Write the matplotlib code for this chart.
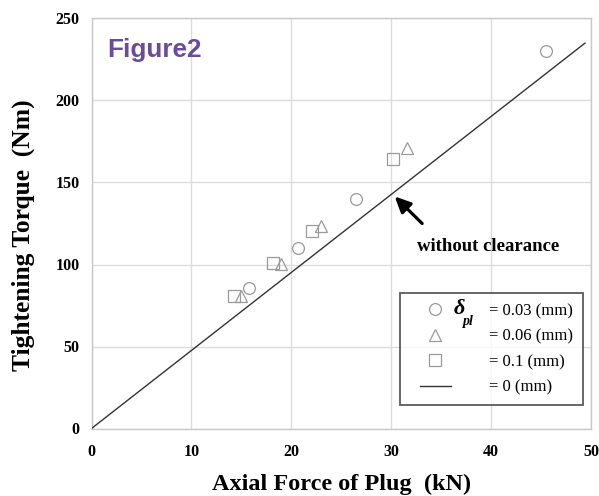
import matplotlib
matplotlib.use("Agg")
import matplotlib.pyplot as plt
from matplotlib.lines import Line2D
from matplotlib.legend_handler import HandlerLine2D

# Data
x_003 = [15.8, 20.7, 26.5, 45.5]
y_003 = [85.5, 110.0, 140.0, 230.0]
x_006 = [15.0, 19.0, 23.0, 31.6]
y_006 = [80.5, 100.5, 123.5, 171.0]
x_01 = [14.3, 18.2, 22.1, 30.2]
y_01 = [80.5, 100.7, 120.6, 164.3]
x_line = [0.0, 49.4]
y_line = [0.0, 235.0]

xticks = [0, 10, 20, 30, 40, 50]
yticks = [0, 50, 100, 150, 200, 250]
labels = ["= 0.03 (mm)", "= 0.06 (mm)", "= 0.1 (mm)", "= 0 (mm)"]

W, H = 599, 496
fig = plt.figure(figsize=(W / 100, H / 100), dpi=100)
L, R, T, B = 91.5, 591, 18.5, 428.5
ax = fig.add_axes([L / W, 1 - B / H, (R - L) / W, (B - T) / H])

serif = "Liberation Serif"
mk = dict(linestyle="none", markerfacecolor="none", markeredgecolor="#9a9a9a",
          markeredgewidth=0.9, markersize=8.5)

ax.plot(x_line, y_line, color="#333333", lw=1.0, zorder=3)
ax.plot(x_003, y_003, marker="o", **mk, zorder=4)
ax.plot(x_006, y_006, marker="^", **mk, zorder=4)
ax.plot(x_01, y_01, marker="s", **mk, zorder=4)

ax.set_xlim(0, 50)
ax.set_ylim(0, 250)
ax.set_xticks(xticks)
ax.set_yticks(yticks)
ax.grid(True, color="#dcdcdc", lw=1.0)
ax.set_axisbelow(True)
for s in ax.spines.values():
    s.set_color("#c8c8c8")
    s.set_linewidth(1.0)
ax.tick_params(length=0)
ax.tick_params(axis="y", pad=8.5)
ax.tick_params(axis="x", pad=11)
for lab in ax.get_xticklabels() + ax.get_yticklabels():
    lab.set_fontfamily(serif)
    lab.set_fontweight("bold")
    lab.set_fontsize(11.5)

ax.set_xlabel("Axial Force of Plug  (kN)", fontfamily=serif, fontweight="bold",
              fontsize=17.5, labelpad=10)
ax.set_ylabel("Tightening Torque  (Nm)", fontfamily=serif, fontweight="bold",
              fontsize=18.4)
ax.yaxis.set_label_coords((35 - L) / (R - L), (B - 235) / (B - T))

# annotation
ax.annotate("", xy=(30.35, 141.5), xytext=(33.1, 125.0),
            arrowprops=dict(arrowstyle="-|>,head_length=0.95,head_width=0.45",
                            color="black", lw=2.3, shrinkA=0, shrinkB=0))
ax.text(39.7, 111.2, "without clearance", fontfamily=serif, fontweight="bold",
        fontsize=13.5, ha="center", va="center")

# legend
handles = [
    Line2D([], [], marker="o", **mk),
    Line2D([], [], marker="^", **mk),
    Line2D([], [], marker="s", **mk),
    Line2D([], [], color="#333333", lw=1.0),
]
hmap = {h: HandlerLine2D(xpad=0.6) for h in handles}
leg = ax.legend(handles, labels, loc="upper left", handler_map=hmap,
                bbox_to_anchor=((399.5 - L) / (R - L), (B - 293) / (B - T)),
                prop=dict(family=serif, size=12), frameon=True, fancybox=False,
                edgecolor="#333333", handlelength=2.48, handletextpad=2.3,
                labelspacing=0.57, borderpad=0.6, borderaxespad=0)
leg.get_frame().set_linewidth(1.3)

# delta_pl
ax.text((459 - L) / (R - L), (B - 308.5) / (B - T), "δ", transform=ax.transAxes,
        fontfamily=serif, fontweight="bold", fontstyle="italic", fontsize=16,
        ha="center", va="center", zorder=10)
ax.text((468.5 - L) / (R - L), (B - 322) / (B - T), "pl", transform=ax.transAxes,
        fontfamily=serif, fontweight="bold", fontstyle="italic", fontsize=10,
        ha="center", va="center", zorder=10)

fig.text(107 / W, 1 - 57.5 / H, "Figure2", fontfamily="Liberation Sans",
         fontweight="bold", fontsize=18.8, color="#6a4c9c", ha="left", va="baseline")

fig.savefig("out.png", dpi=100)
